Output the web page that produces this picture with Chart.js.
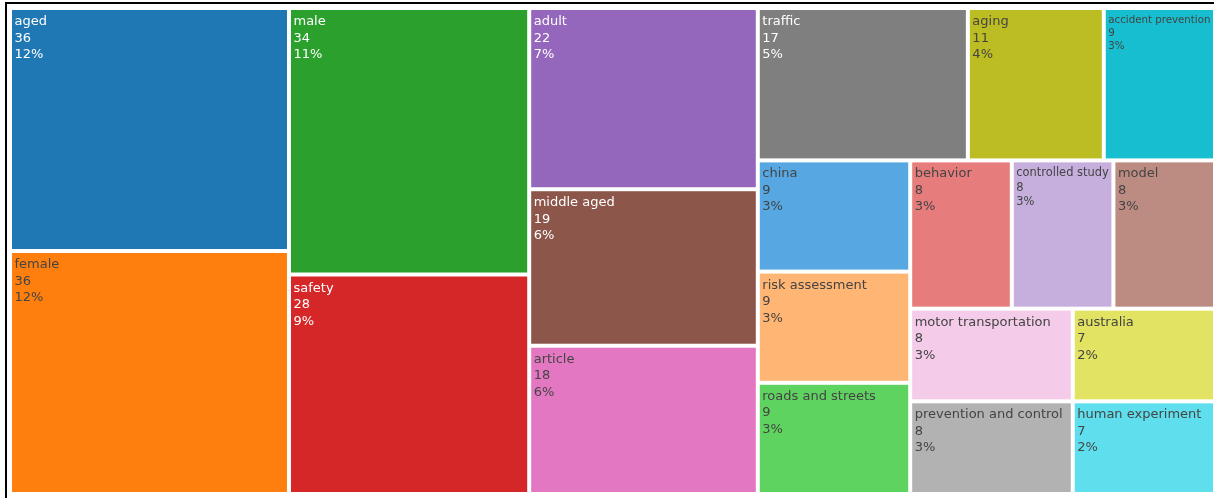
<!DOCTYPE html>
<html>
<head>
<meta charset="utf-8">
<script src="https://cdn.jsdelivr.net/npm/chart.js@4/dist/chart.umd.min.js"></script>
<style>
  html, body { margin: 0; padding: 0; background: #fff; overflow: hidden; }
  #frame { position: absolute; left: 5px; top: 2px; width: 1300px; height: 495px;
           border-left: 2px solid #000; border-top: 2px solid #000; }
  #wrap { position: absolute; left: 0; top: 0; width: 1216px; height: 498px; }
</style>
</head>
<body>
<div id="frame"></div>
<div id="wrap"><canvas id="tree"></canvas></div>
<script>
// terms, already in plotly's descending order
const labels = [
  'aged', 'female', 'male', 'safety', 'adult', 'middle aged', 'article',
  'traffic', 'aging', 'accident prevention', 'china', 'risk assessment',
  'roads and streets', 'behavior', 'controlled study', 'model',
  'motor transportation', 'prevention and control', 'australia', 'human experiment'
];
const counts = [36, 36, 34, 28, 22, 19, 18, 17, 11, 9, 9, 9, 9, 8, 8, 8, 8, 8, 7, 7];

// d3 category10 + the lightened extension plotly adds for treemaps
const colors = [
  '#1f77b4', '#ff7f0e', '#2ca02c', '#d62728', '#9467bd',
  '#8c564b', '#e377c2', '#7f7f7f', '#bcbd22', '#17becf',
  '#57a8e2', '#ffb574', '#5fd35f', '#e77c7c', '#c6afdc',
  '#bc8b82', '#f4cbe8', '#b2b2b2', '#e2e362', '#5fdfed'
];

// squarify (same steps as d3.treemapSquarify with ratio 1)
function squarify(values, x0, y0, x1, y1) {
  const out = [];
  let value = values.reduce((a, b) => a + b, 0);
  let i0 = 0, i1 = 0;
  const n = values.length;
  while (i0 < n) {
    const dx = x1 - x0, dy = y1 - y0;
    let sum = values[i1++];
    let minV = sum, maxV = sum;
    const alpha = Math.max(dy / dx, dx / dy) / value;
    let beta = sum * sum * alpha;
    let minRatio = Math.max(maxV / beta, beta / minV);
    for (; i1 < n; ++i1) {
      const v = values[i1];
      sum += v;
      if (v < minV) minV = v;
      if (v > maxV) maxV = v;
      beta = sum * sum * alpha;
      const r = Math.max(maxV / beta, beta / minV);
      if (r > minRatio) { sum -= v; break; }
      minRatio = r;
    }
    const dice = dx < dy;
    if (dice) {
      const ny = y0 + dy * sum / value;
      let cx = x0;
      for (let i = i0; i < i1; i++) {
        const w = dx * values[i] / sum;
        out[i] = { x0: cx, y0: y0, x1: cx + w, y1: ny };
        cx += w;
      }
      y0 = ny;
    } else {
      const nx = x0 + dx * sum / value;
      let cy = y0;
      for (let i = i0; i < i1; i++) {
        const h = dy * values[i] / sum;
        out[i] = { x0: x0, y0: cy, x1: nx, y1: cy + h };
        cy += h;
      }
      x0 = nx;
    }
    value -= sum;
    i0 = i1;
  }
  return out;
}

function isDark(hex) {
  const r = parseInt(hex.slice(1, 3), 16), g = parseInt(hex.slice(3, 5), 16), b = parseInt(hex.slice(5, 7), 16);
  return (r * 299 + g * 587 + b * 114) / 1000 < 128;
}

const treemapPlugin = {
  id: 'treemapCells',
  beforeDatasetsDraw(chart) {
    const { ctx, chartArea, scales } = chart;
    const ds = chart.data.datasets[0];
    const vals = ds.data;
    const total = vals.reduce((a, b) => a + b, 0);
    // lay out in value space: x 0..aspect, y 0..1, then map through the scales
    const aspect = chartArea.width / chartArea.height;
    const cells = squarify(vals, 0, 0, aspect, 1);
    const pad = 2;
    ctx.save();
    cells.forEach((c, i) => {
      const left = scales.x.getPixelForValue(c.x0 / aspect) + pad;
      const right = scales.x.getPixelForValue(c.x1 / aspect) - pad;
      const top = scales.y.getPixelForValue(c.y0) + pad;
      const bottom = scales.y.getPixelForValue(c.y1) - pad;
      const bg = ds.backgroundColor[i];
      ctx.fillStyle = bg;
      ctx.fillRect(left, top, right - left, bottom - top);

      const lines = [chart.data.labels[i], String(vals[i]), Math.round(vals[i] / total * 100) + '%'];
      let fs = 13;
      ctx.font = fs + 'px "DejaVu Sans", Verdana, sans-serif';
      const widest = Math.max(...lines.map(t => ctx.measureText(t).width));
      const room = right - left - 5;
      if (widest > room) fs = fs * room / widest;
      ctx.font = fs + 'px "DejaVu Sans", Verdana, sans-serif';
      ctx.fillStyle = isDark(bg) ? '#fff' : '#444';
      ctx.textBaseline = 'alphabetic';
      ctx.textAlign = 'left';
      ctx.save();
      ctx.beginPath();
      ctx.rect(left, top, right - left, bottom - top);
      ctx.clip();
      const lh = fs * 1.27;
      lines.forEach((t, k) => {
        ctx.fillText(t, left + 2.5, top + 3 + fs * 0.93 + k * lh);
      });
      ctx.restore();
    });
    ctx.restore();
  }
};

new Chart(document.getElementById('tree'), {
  type: 'scatter',
  data: {
    labels: labels,
    datasets: [{ data: counts, backgroundColor: colors, pointRadius: 0, showLine: false }]
  },
  options: {
    responsive: true,
    maintainAspectRatio: false,
    animation: false,
    layout: { padding: { left: 10, top: 8, right: 1, bottom: 4 } },
    parsing: false,
    plugins: { legend: { display: false }, tooltip: { enabled: false } },
    scales: {
      x: { type: 'linear', min: 0, max: 1, display: false },
      y: { type: 'linear', min: 0, max: 1, display: false, reverse: true }
    }
  },
  plugins: [treemapPlugin]
});
</script>
</body>
</html>
